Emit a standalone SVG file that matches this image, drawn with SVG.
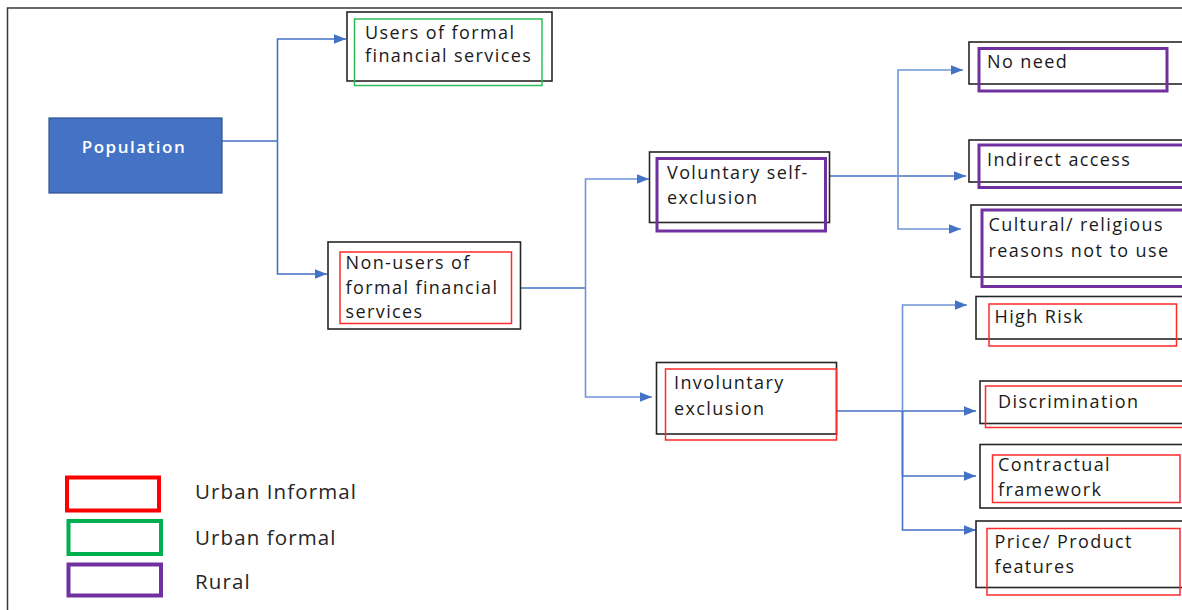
<svg xmlns="http://www.w3.org/2000/svg" width="1182" height="610" viewBox="0 0 1182 610">
<defs>
<marker id="arr" viewBox="0 0 10 8" refX="10" refY="4" markerWidth="12" markerHeight="10" markerUnits="userSpaceOnUse" orient="auto">
<path d="M0,0 L10,4 L0,8 Z" fill="#4472C4"/>
</marker>
</defs>
<style>
.frame{fill:none;stroke:#3a3a3a;stroke-width:1.5}
.blk{fill:#fff;stroke:#262626;stroke-width:1.6}
.grn{fill:none;stroke:#2EBD5A;stroke-width:1.5}
.red{fill:none;stroke:#FF2A2A;stroke-width:1.5}
.pur{fill:none;stroke:#7030A0;stroke-width:3}
.t{font-family:"Open Sans","Noto Sans",sans-serif;font-size:18px;fill:#1a1a1a;letter-spacing:1.4px}
.lg{font-family:"Open Sans","Noto Sans",sans-serif;font-size:20.5px;fill:#262626;letter-spacing:1.1px}
.c{fill:none;stroke:#4472C4;stroke-width:1.6}
.cv{fill:none;stroke:#6F95D8;stroke-width:1.6}
</style>
<rect class="frame" x="7.5" y="8" width="1200" height="620"/>

<g id="connectors">
<path class="c" d="M222,141 H277.5"/>
<path class="c" d="M277.5,141 V39 H346" marker-end="url(#arr)"/>
<path class="c" d="M277.5,141 V274 H327" marker-end="url(#arr)"/>
<path class="c" d="M520,288 H585.5"/>
<path class="cv" d="M585.5,288 V179 H649" marker-end="url(#arr)"/>
<path class="cv" d="M585.5,288 V397 H652" marker-end="url(#arr)"/>
<path class="c" d="M829,176 H966" marker-end="url(#arr)"/>
<path class="cv" d="M898,176 V70 H963" marker-end="url(#arr)"/>
<path class="cv" d="M898,176 V229 H961" marker-end="url(#arr)"/>
<path class="c" d="M829,411 H976" marker-end="url(#arr)"/>
<path class="cv" d="M902.5,411 V305 H967" marker-end="url(#arr)"/>
<path class="c" d="M902.5,411 V476 H976" marker-end="url(#arr)"/>
<path class="c" d="M902.5,411 V530 H976" marker-end="url(#arr)"/>
</g>

<g id="population">
<rect x="49" y="118" width="173" height="75" fill="#4472C4" stroke="#2F528F" stroke-width="1.2"/>
<text x="134" y="153" text-anchor="middle" style="font-family:'Open Sans','Noto Sans',sans-serif;font-size:17px;font-weight:600;fill:#ffffff;letter-spacing:1.5px">Population</text>
</g>

<g id="users">
<rect class="blk" x="347" y="12" width="205" height="69"/>
<rect class="grn" x="354.5" y="19" width="187.5" height="66.5"/>
<text class="t" x="365" y="39">Users of formal</text>
<text class="t" x="365" y="62">financial services</text>
</g>

<g id="nonusers">
<rect class="blk" x="328" y="242" width="192.5" height="87"/>
<rect class="red" x="340" y="252" width="171.5" height="71.5"/>
<text class="t" x="345.5" y="269">Non-users of</text>
<text class="t" x="345.5" y="294">formal financial</text>
<text class="t" x="345.5" y="318">services</text>
</g>

<g id="voluntary">
<rect class="blk" x="649.5" y="152" width="180" height="70.5"/>
<rect class="pur" x="657" y="158.5" width="168.5" height="72.5"/>
<text class="t" x="667" y="179">Voluntary self-</text>
<text class="t" x="667" y="204">exclusion</text>
</g>

<g id="involuntary">
<rect class="blk" x="656.5" y="362.5" width="180" height="71.5"/>
<rect class="red" x="665.5" y="369" width="171" height="71"/>
<text class="t" x="674" y="389">Involuntary</text>
<text class="t" x="674" y="415">exclusion</text>
</g>

<g id="noneed">
<rect class="blk" x="969" y="42" width="240" height="42"/>
<rect class="pur" x="979" y="48.5" width="188" height="42.5"/>
<text class="t" x="987" y="68">No need</text>
</g>

<g id="indirect">
<rect class="blk" x="969" y="140" width="240" height="42"/>
<rect class="pur" x="979" y="145" width="230" height="42.5"/>
<text class="t" x="987" y="166">Indirect access</text>
</g>

<g id="cultural">
<rect class="blk" x="971" y="205" width="240" height="72"/>
<rect class="pur" x="982" y="210" width="230" height="76.5"/>
<text class="t" x="988.5" y="231">Cultural/ religious</text>
<text class="t" x="988.5" y="256.5">reasons not to use</text>
</g>

<g id="highrisk">
<rect class="blk" x="976" y="296.5" width="240" height="42.5"/>
<rect class="red" x="989" y="304" width="187.5" height="42"/>
<text class="t" x="994.5" y="323">High Risk</text>
</g>

<g id="discrimination">
<rect class="blk" x="980" y="381" width="240" height="42.5"/>
<rect class="red" x="985.5" y="386" width="230" height="41.5"/>
<text class="t" x="998" y="407.5">Discrimination</text>
</g>

<g id="contractual">
<rect class="blk" x="980" y="444.5" width="240" height="63.5"/>
<rect class="red" x="992.5" y="455" width="187.5" height="47.5"/>
<text class="t" x="998" y="470.5">Contractual</text>
<text class="t" x="998" y="496">framework</text>
</g>

<g id="price">
<rect class="blk" x="976" y="521" width="240" height="66.5"/>
<rect class="red" x="987" y="528.5" width="193" height="66.5"/>
<text class="t" x="994.5" y="547.5">Price/ Product</text>
<text class="t" x="994.5" y="573">features</text>
</g>

<g id="legend">
<rect x="67" y="477.5" width="92" height="33" fill="none" stroke="#FF0000" stroke-width="4"/>
<rect x="68.5" y="521" width="92.5" height="33" fill="none" stroke="#00B050" stroke-width="4"/>
<rect x="68.5" y="564.5" width="92.5" height="31" fill="none" stroke="#7030A0" stroke-width="4"/>
<text class="lg" x="195" y="499">Urban Informal</text>
<text class="lg" x="195" y="544.5">Urban formal</text>
<text class="lg" x="195" y="589">Rural</text>
</g>
</svg>
